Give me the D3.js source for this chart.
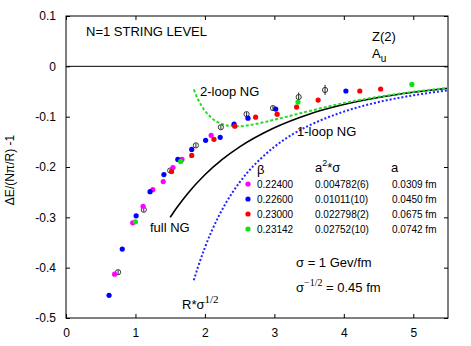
<!DOCTYPE html>
<html>
<head>
<meta charset="utf-8">
<script src="https://cdn.jsdelivr.net/npm/d3@7"></script>
<style>
  body { margin: 0; background: #fff; }
  text { font-family: "Liberation Sans", Arial, Helvetica, sans-serif; fill: #000; }
</style>
</head>
<body>
<svg id="chart" width="471" height="346"></svg>
<script>

// tick values
var xTicks = [0, 1, 2, 3, 4, 5];
var yTicks = [0.1, 0, -0.1, -0.2, -0.3, -0.4, -0.5];

// legend table
var betaLabels = ['0.22400', '0.22600', '0.23000', '0.23142'];
var a2sigmaLabels = ['0.004782(6)', '0.01011(10)', '0.022798(2)', '0.02752(10)'];
var spacingLabels = ['0.0309 fm', '0.0450 fm', '0.0675 fm', '0.0742 fm'];

// lattice points [R*sigma^1/2, dE/(N pi/R) - 1], one list per beta
var beta22400 = [[0.70, -0.413], [0.96, -0.311], [1.11, -0.278], [1.25, -0.245],
                 [1.40, -0.229], [1.54, -0.201], [1.67, -0.185], [2.09, -0.137]];
var beta22600 = [[0.62, -0.455], [0.81, -0.363], [1.01, -0.297], [1.21, -0.249],
                 [1.41, -0.215], [1.61, -0.185], [1.81, -0.165], [2.01, -0.147],
                 [2.22, -0.141], [2.42, -0.115], [2.62, -0.103], [3.02, -0.085],
                 [4.03, -0.049]];
var beta23000 = [[1.52, -0.209], [1.81, -0.177], [2.13, -0.145], [2.43, -0.119],
                 [2.73, -0.101], [3.04, -0.095], [3.32, -0.081], [3.63, -0.067],
                 [4.23, -0.049], [4.53, -0.045]];
var beta23142 = [[1.00, -0.309], [1.65, -0.189], [3.34, -0.071], [4.98, -0.036]];

// open circles with error bars [x, y, err]
var openPoints = [[0.75, -0.409, 0.004], [1.12, -0.285, 0.004], [1.50, -0.207, 0.004],
                  [1.87, -0.157, 0.004], [2.23, -0.121, 0.004], [2.60, -0.095, 0.004],
                  [2.98, -0.083, 0.004], [3.35, -0.061, 0.009], [3.73, -0.047, 0.010]];

// curves
var fullNG = [[1.50, -0.300], [1.60, -0.280], [1.75, -0.253], [2.00, -0.2155],
              [2.25, -0.185], [2.50, -0.160], [3.00, -0.122], [3.50, -0.095],
              [4.00, -0.076], [4.50, -0.062], [5.00, -0.0515], [5.50, -0.0434]];
var oneLoopNG = [[1.84, -0.425], [1.90, -0.399], [2.00, -0.360], [2.10, -0.3265],
                 [2.20, -0.2975], [2.30, -0.272], [2.40, -0.250], [2.60, -0.213],
                 [2.80, -0.184], [3.00, -0.160], [3.25, -0.136], [3.50, -0.1176],
                 [4.00, -0.090], [4.50, -0.071], [5.00, -0.0576], [5.50, -0.0476]];
var twoLoopNG = [[1.84, -0.046], [1.90, -0.0655], [2.00, -0.088], [2.10, -0.103],
                 [2.20, -0.112], [2.35, -0.118], [2.50, -0.119], [2.75, -0.114],
                 [3.00, -0.106], [3.50, -0.089], [4.00, -0.073], [4.50, -0.0605],
                 [5.00, -0.0507], [5.50, -0.0429]];

var colors = ['#ff00ff', '#0000ff', '#ff0000', '#11e011'];
var series = [beta22400, beta22600, beta23000, beta23142];

// layout
var margin = { top: 16, left: 66, bottom: 28, right: 23 };
var svg = d3.select('#chart');
var width = svg.attr('width') - margin.left - margin.right;
var height = svg.attr('height') - margin.top - margin.bottom;

var g = svg.append('g')
    .attr('transform', 'translate(' + margin.left + ',' + margin.top + ')');

var xScale = d3.scaleLinear().domain([0, 5.5]).range([0, width]);
var yScale = d3.scaleLinear().domain([-0.5, 0.1]).range([height, 0]);

// axes, ticks pointing inward
var fmt = function(d){ return String(d); };

g.append('g')
    .attr('transform', 'translate(0,' + height + ')')
    .call(d3.axisBottom(xScale).tickValues(xTicks).tickSizeInner(-4).tickSizeOuter(0).tickPadding(10).tickFormat(fmt));
g.append('g')
    .call(d3.axisTop(xScale).tickValues(xTicks).tickSizeInner(-4).tickSizeOuter(0).tickFormat(''));
g.append('g')
    .call(d3.axisLeft(yScale).tickValues(yTicks).tickSizeInner(-4).tickSizeOuter(0).tickPadding(10).tickFormat(fmt));
g.append('g')
    .attr('transform', 'translate(' + width + ',0)')
    .call(d3.axisRight(yScale).tickValues(yTicks).tickSizeInner(-4).tickSizeOuter(0).tickFormat(''));

g.selectAll('.domain').remove();
g.selectAll('.tick line').attr('stroke', '#000');
g.selectAll('.tick text').attr('font-size', 12).attr('font-family', '"Liberation Sans", Arial, sans-serif');

// frame and zero line
g.append('rect')
    .attr('width', width).attr('height', height)
    .attr('fill', 'none').attr('stroke', '#000').attr('stroke-width', 1);
g.append('line')
    .attr('x1', 0).attr('x2', width)
    .attr('y1', yScale(0)).attr('y2', yScale(0))
    .attr('stroke', '#000').attr('stroke-width', 1);

// curves
var line = d3.line()
    .x(function(d){ return xScale(d[0]); })
    .y(function(d){ return yScale(d[1]); })
    .curve(d3.curveMonotoneX);

g.append('path').datum(fullNG)
    .attr('d', line).attr('fill', 'none')
    .attr('stroke', '#000').attr('stroke-width', 1.6);
g.append('path').datum(oneLoopNG)
    .attr('d', line).attr('fill', 'none')
    .attr('stroke', '#2222ff').attr('stroke-width', 2).attr('stroke-dasharray', '2,2');
g.append('path').datum(twoLoopNG)
    .attr('d', line).attr('fill', 'none')
    .attr('stroke', '#22dd22').attr('stroke-width', 2).attr('stroke-dasharray', '3,2');

// open circles
var open = g.append('g').selectAll('g').data(openPoints).enter().append('g');
open.append('line')
    .attr('x1', function(d){ return xScale(d[0]); })
    .attr('x2', function(d){ return xScale(d[0]); })
    .attr('y1', function(d){ return yScale(d[1] + d[2]); })
    .attr('y2', function(d){ return yScale(d[1] - d[2]); })
    .attr('stroke', '#222').attr('stroke-width', 1);
open.append('circle')
    .attr('cx', function(d){ return xScale(d[0]); })
    .attr('cy', function(d){ return yScale(d[1]); })
    .attr('r', 2.6)
    .attr('fill', 'none').attr('stroke', '#222').attr('stroke-width', 0.9);

// coloured points
series.forEach(function(s, i){
  g.append('g').selectAll('circle').data(s).enter().append('circle')
      .attr('cx', function(d){ return xScale(d[0]); })
      .attr('cy', function(d){ return yScale(d[1]); })
      .attr('r', 2.6)
      .attr('fill', colors[i]);
});

// labels
svg.append('text').attr('x', 86).attr('y', 36).attr('font-size', 13).text('N=1 STRING LEVEL');
svg.append('text').attr('x', 372).attr('y', 41).attr('font-size', 13).text('Z(2)');
var au = svg.append('text').attr('x', 372).attr('y', 58).attr('font-size', 13);
au.append('tspan').text('A');
au.append('tspan').attr('dy', 4).attr('font-size', 10).text('u');

svg.append('text').attr('x', 200).attr('y', 96).attr('font-size', 13).text('2-loop NG');
svg.append('text').attr('x', 297).attr('y', 136).attr('font-size', 13).text('1-loop NG');
svg.append('text').attr('x', 150).attr('y', 232).attr('font-size', 13).text('full NG');

var rs = svg.append('text').attr('x', 182).attr('y', 309).attr('font-size', 13);
rs.append('tspan').text('R*σ');
rs.append('tspan').attr('dy', -6).attr('font-size', 11)
    .attr('font-family', '"Liberation Serif", "Times New Roman", serif').text('1/2');

svg.append('text')
    .attr('transform', 'translate(14,170) rotate(-90)')
    .attr('text-anchor', 'middle').attr('font-size', 12)
    .text('ΔE/(Nπ/R) -1');

// legend table
svg.append('text').attr('x', 257).attr('y', 174).attr('font-size', 13).text('β');
var a2 = svg.append('text').attr('x', 315).attr('y', 172).attr('font-size', 13);
a2.append('tspan').text('a');
a2.append('tspan').attr('dy', -6).attr('font-size', 9).text('2');
a2.append('tspan').attr('dy', 6).text('*σ');
svg.append('text').attr('x', 391).attr('y', 172).attr('font-size', 13).text('a');

var rows = svg.append('g').selectAll('g').data(betaLabels).enter().append('g')
    .attr('transform', function(d, i){ return 'translate(0,' + (188 + i * 15) + ')'; });
rows.append('circle').attr('cx', 248).attr('cy', -4).attr('r', 2.6)
    .attr('fill', function(d, i){ return colors[i]; });
rows.append('text').attr('x', 257).attr('font-size', 10).text(function(d){ return d; });
rows.append('text').attr('x', 315).attr('font-size', 10).text(function(d, i){ return a2sigmaLabels[i]; });
rows.append('text').attr('x', 392).attr('font-size', 10).text(function(d, i){ return spacingLabels[i]; });

svg.append('text').attr('x', 296).attr('y', 267).attr('font-size', 13).text('σ  = 1 Gev/fm');
var sg = svg.append('text').attr('x', 296).attr('y', 292).attr('font-size', 13);
sg.append('tspan').text('σ');
sg.append('tspan').attr('dy', -6).attr('font-size', 10)
    .attr('font-family', '"Liberation Serif", "Times New Roman", serif').text('−1/2');
sg.append('tspan').attr('dy', 6).text(' = 0.45 fm');

</script>
</body>
</html>
